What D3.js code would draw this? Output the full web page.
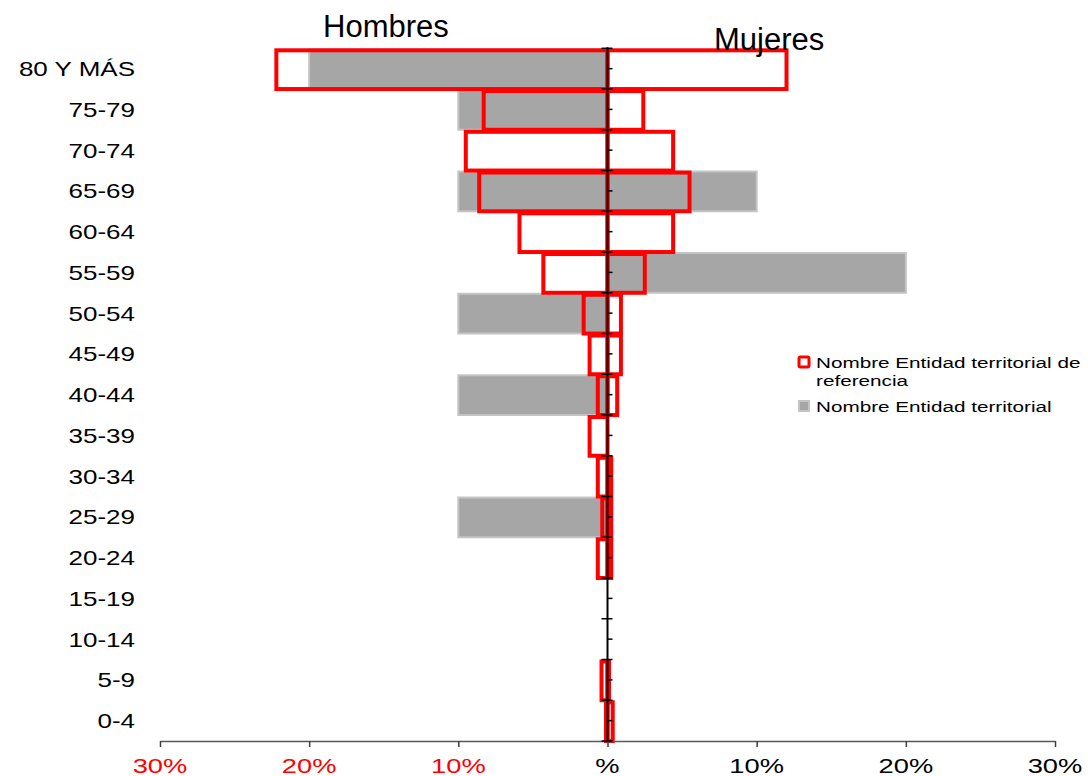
<!DOCTYPE html>
<html>
<head>
<meta charset="utf-8">
<script src="https://cdn.jsdelivr.net/npm/d3@7"></script>
<style>
  body { margin: 0; background: #fff; }
  text { font-family: "Liberation Sans", Arial, sans-serif; }
</style>
</head>
<body>
<div id="container"></div>
<script>
// DATA

const ages = ["80 Y MÁS", "75-79", "70-74", "65-69", "60-64", "55-59", "50-54", "45-49",
              "40-44", "35-39", "30-34", "25-29", "20-24", "15-19", "10-14", "5-9", "0-4"]

// Nombre Entidad territorial (gris)
const hombresEntidad = [20, 10, 0, 10, 0, 0, 10, 0, 10, 0, 0, 10, 0, 0, 0, 0, 0]
const mujeresEntidad = [0, 0, 0, 10, 0, 20, 0, 0, 0, 0, 0, 0, 0, 0, 0, 0, 0]

// Nombre Entidad territorial de referencia (rojo)
const hombresRef = [22.2, 8.3, 9.5, 8.6, 5.9, 4.3, 1.6, 1.2, 0.65, 1.2, 0.65, 0.35, 0.65, 0, 0, 0.4, 0.1]
const mujeresRef = [12.0, 2.4, 4.4, 5.5, 4.4, 2.5, 0.9, 0.9, 0.65, 0, 0.25, 0.25, 0.25, 0, 0, 0.1, 0.35]

const tickValues = [-30, -20, -10, 0, 10, 20, 30]
const tickLabels = ["30%", "20%", "10%", "%", "10%", "20%", "30%"]

// VARIABLES

const width = 1088,
      height = 776,
      margin = {top: 48.3, bottom: 35, left: 160, right: 33},
      stretch = 1.3

// SCALES

const xScale = d3.scaleLinear()
    .domain([-30, 30])
    .range([margin.left, width - margin.right])

const yScale = d3.scaleBand()
    .domain(ages)
    .range([margin.top, height - margin.bottom])
    .padding(0)

// ELEMENTS

const svg = d3.select("#container")
    .append("svg")
    .attr("width", width)
    .attr("height", height)

const bw = yScale.bandwidth()

// gray bars
const gris = ages.flatMap((a, i) => [
  {age: a, v: -hombresEntidad[i]},
  {age: a, v: mujeresEntidad[i]}
]).filter(d => d.v !== 0)

svg.selectAll("rect.gris")
    .data(gris)
    .join("rect")
    .attr("class", "gris")
    .attr("x", d => Math.min(xScale(0), xScale(d.v)))
    .attr("y", d => yScale(d.age) + 1)
    .attr("width", d => Math.abs(xScale(d.v) - xScale(0)))
    .attr("height", bw - 1)
    .attr("fill", "#a6a6a6")
    .attr("stroke", "#c4c4c4")
    .attr("stroke-width", 2)

// red outline bars
const rojo = ages.flatMap((a, i) => [
  {age: a, v: -hombresRef[i]},
  {age: a, v: mujeresRef[i]}
]).filter(d => d.v !== 0)

svg.selectAll("rect.rojo")
    .data(rojo)
    .join("rect")
    .attr("class", "rojo")
    .attr("x", d => Math.min(xScale(0), xScale(d.v)))
    .attr("y", d => yScale(d.age) + 2)
    .attr("width", d => Math.abs(xScale(d.v) - xScale(0)))
    .attr("height", bw - 2)
    .attr("fill", "none")
    .attr("stroke", "#ff0000")
    .attr("stroke-width", 4)

// bottom axis
const xAxis = svg.append("g")
    .attr("transform", `translate(0,${height - margin.bottom})`)
    .call(d3.axisBottom(xScale).tickValues(tickValues).tickSize(6).tickSizeOuter(0).tickFormat(""))

xAxis.select(".domain").attr("stroke", "#595959").attr("stroke-width", 1.5)
xAxis.selectAll(".tick line").attr("stroke", "#404040").attr("stroke-width", 1.5)

svg.selectAll("text.xlab")
    .data(tickValues)
    .join("text")
    .attr("class", "xlab")
    .attr("transform", d => `translate(${xScale(d)},773) scale(${stretch},1)`)
    .attr("text-anchor", "middle")
    .attr("font-size", 21)
    .attr("fill", d => d < 0 ? "#ff0000" : "#000")
    .text((d, i) => tickLabels[i])

// central axis
const x0 = xScale(0)
svg.append("line")
    .attr("x1", x0).attr("x2", x0)
    .attr("y1", margin.top - 1).attr("y2", height - margin.bottom)
    .attr("stroke", "#000")
    .attr("stroke-width", 2)

// major ticks at band edges, minor at centers
svg.selectAll("line.major")
    .data(ages.concat(["end"]))
    .join("line")
    .attr("class", "major")
    .attr("x1", x0 - 6).attr("x2", x0 + 5)
    .attr("y1", (d, i) => margin.top + i * bw)
    .attr("y2", (d, i) => margin.top + i * bw)
    .attr("stroke", "#000")
    .attr("stroke-width", 1.5)

svg.selectAll("line.minor")
    .data(ages)
    .join("line")
    .attr("class", "minor")
    .attr("x1", x0).attr("x2", x0 + 5)
    .attr("y1", d => yScale(d) + bw / 2)
    .attr("y2", d => yScale(d) + bw / 2)
    .attr("stroke", "#000")
    .attr("stroke-width", 1.5)

// age labels
svg.selectAll("text.age")
    .data(ages)
    .join("text")
    .attr("class", "age")
    .attr("transform", d => `translate(135,${yScale(d) + bw / 2 + 7.5}) scale(${stretch},1)`)
    .attr("text-anchor", "end")
    .attr("font-size", 20)
    .attr("fill", "#000")
    .text(d => d)

// titles
svg.append("text")
    .attr("x", 323).attr("y", 37)
    .attr("font-size", 31)
    .text("Hombres")

svg.append("text")
    .attr("x", 714).attr("y", 50)
    .attr("font-size", 31)
    .text("Mujeres")

// LEGEND

const legend = svg.append("g")

legend.append("rect")
    .attr("x", 799).attr("y", 357)
    .attr("width", 10).attr("height", 10)
    .attr("rx", 1.5)
    .attr("fill", "#fff")
    .attr("stroke", "#ff0000")
    .attr("stroke-width", 3)

legend.append("rect")
    .attr("x", 799).attr("y", 401)
    .attr("width", 10).attr("height", 10)
    .attr("fill", "#a6a6a6")
    .attr("stroke", "#c4c4c4")
    .attr("stroke-width", 2)

const legendText = [
  {t: "Nombre Entidad territorial de", y: 368},
  {t: "referencia", y: 386},
  {t: "Nombre Entidad territorial", y: 412}
]

legend.selectAll("text")
    .data(legendText)
    .join("text")
    .attr("transform", d => `translate(816,${d.y}) scale(1.38,1)`)
    .attr("font-size", 15)
    .attr("fill", "#000")
    .text(d => d.t)
</script>
</body>
</html>
